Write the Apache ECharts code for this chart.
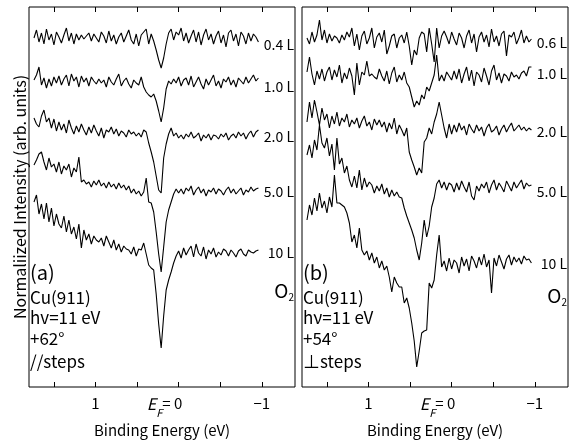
<!DOCTYPE html>
<html>
<head>
<meta charset="utf-8">
<script src="https://cdn.jsdelivr.net/npm/echarts@6/dist/echarts.min.js"></script>
<style>
  html, body { margin: 0; padding: 0; background: #fff; }
  #chart { width: 577px; height: 443px; }
</style>
</head>
<body>
<div id="chart"></div>
<script>
// binding energy grid (eV), shared by all spectra
var energy = [
  1.74, 1.71, 1.68, 1.65, 1.62, 1.59, 1.56, 1.53, 1.50, 1.47,
  1.44, 1.41, 1.38, 1.35, 1.32, 1.29, 1.26, 1.23, 1.20, 1.17,
  1.14, 1.11, 1.08, 1.05, 1.02, 0.99, 0.96, 0.93, 0.90, 0.87,
  0.84, 0.81, 0.78, 0.75, 0.72, 0.69, 0.66, 0.63, 0.60, 0.57,
  0.54, 0.51, 0.48, 0.45, 0.42, 0.39, 0.36, 0.33, 0.30, 0.27,
  0.24, 0.21, 0.18, 0.15, 0.12, 0.09, 0.06, 0.03, 0.00, -0.03,
  -0.06, -0.09, -0.12, -0.15, -0.18, -0.21, -0.24, -0.27, -0.30, -0.33,
  -0.36, -0.39, -0.42, -0.45, -0.48, -0.51, -0.54, -0.57, -0.60, -0.63,
  -0.66, -0.69, -0.72, -0.75, -0.78, -0.81, -0.84, -0.87, -0.90, -0.93,
  -0.96
]
var tickValues = [1.5, 1, 0.5, 0, -0.5, -1]
var labelValues = [1, 0, -1]

var dosesA = ['0.4 L', '1.0 L', '2.0 L', '5.0 L', '10 L']
var dosesB = ['0.6 L', '1.0 L', '2.0 L', '5.0 L', '10 L']
// vertical offset of each spectrum (arb. units)
var offsetsA = [349, 304, 251, 195, 133]
var offsetsB = [347, 310, 257, 199, 124]

// (a) +62 deg, // steps
var a04 = [
  0, 8, -4, 5, -6, 9, -2, 4, -7, 6,
  1, -5, 3, 10, -3, 5, -6, 4, -2, 3,
  -1, 2, 5, -3, 4, 0, -4, 6, 2, -5,
  7, -3, 3, -6, 1, 5, -4, 2, 8, -2,
  -6, 4, -8, 3, 6, 9, -6, 4, -3, -12,
  -22, -30, -20, -6, 5, 9, -2, 6, 3, 10,
  -3, 5, -5, 2, 8, -4, 6, -7, 3, 9,
  -2, 4, -6, 2, 7, -5, 3, -9, 5, 8,
  -3, 4, -8, 6, 2, -6, 5, -3, 4, 1,
  -4
]
var a10 = [
  3, 8, 16, -2, 5, -5, 4, -3, 6, 0,
  7, -2, 4, 8, -3, 9, 2, 6, -4, 7,
  1, 5, -3, 6, 2, -1, 4, 0, 3, -4,
  6, 1, -2, 4, 9, -3, 2, 5, -1, -5,
  3, 0, -2, 6, -4, -9, -12, -14, -11, -18,
  -28, -39, -25, -6, 2, -1, 4, 0, 6, -3,
  3, 5, -2, 7, -4, 1, 6, -1, -6, 4,
  -2, 3, 8, -3, 2, -5, 4, 1, 6, -2,
  3, -4, 5, 2, -1, 6, 0, 4, 8, 2,
  5
]
var a20 = [
  18, 12, 9, 20, 26, 14, 18, 8, 17, 5,
  14, 6, 12, 3, 16, 8, 2, 10, 4, 12,
  6, 1, 9, 3, 11, 5, 0, 8, -2, 6,
  4, 9, 2, 7, 0, 5, 3, -1, 6, 2,
  4, 0, 3, -1, 6, 4, -7, -16, -26, -40,
  -54, -57, -22, -8, 2, 8, 0, 3, -2, 1,
  -3, 2, -1, 4, -2, 0, 3, -5, 1, -2,
  2, -4, 1, 0, -3, 2, -1, 3, -4, 0,
  2, -2, 4, 0, 3, -3, 2, 5, -1, 4,
  6
]
var a50 = [
  27, 32, 38, 40, 30, 22, 34, 25, 28, 20,
  30, 18, 26, 22, 28, 15, 24, 20, 35, 10,
  12, 8, 10, 5, 11, 7, 12, 6, 9, 4,
  10, 5, 8, 3, 9, 4, 7, 2, 6, -1,
  3, -2, 1, -4, 0, 14, -10, -11, -20, -40,
  -62, -80, -55, -30, -18, -10, -2, 3, -1, 3,
  -2, 4, 1, 6, -3, 2, 5, -1, 3, -4,
  2, 0, 4, -2, 3, 1, -3, 2, 5, -1,
  3, -2, 1, 4, -3, 2, 0, 5, 1, 3,
  4
]
var a100 = [
  52, 59, 40, 50, 35, 51, 32, 46, 28, 40,
  30, 26, 38, 22, 34, 20, 27, 15, 30, 6,
  24, 14, 20, 10, 18, 14, 12, 16, 8, 18,
  12, 6, 14, 4, 10, 2, 8, 5, 4, 0,
  7, -2, 5, 4, 11, 0, -11, -14, -16, -40,
  -70, -94, -62, -36, -26, -18, -9, -2, 3, -4,
  6, -1, 4, 8, -3, 10, 1, -2, 7, -5,
  4, 0, 6, -3, 2, -1, 5, 3, -2, 4,
  1, -3, 3, 5, 0, -2, 4, 2, 1, 3,
  4
]

// (b) +54 deg, perpendicular to steps
var b06 = [
  2, -4, 8, -2, 5, 20, 0, 10, -3, 6,
  -1, 4, 2, -3, 5, 0, 8, 3, 12, -6,
  6, -10, 4, 9, -4, 2, 12, -8, 3, 7,
  -2, 10, -14, -6, 4, 6, -8, 2, 5, -3,
  8, -6, -25, -10, -15, 2, 8, 6, -12, 12,
  -4, -22, 12, -8, 4, 9, 3, -4, 8, 1,
  -5, 7, 2, -8, 4, 10, -3, 6, -12, 3,
  8, -2, 5, -7, 11, -2, 4, -6, 6, 9,
  -16, 5, 3, 8, -4, 2, 10, -3, 4, -2,
  1
]
var b10 = [
  5, 20, 3, -8, 6, -2, 8, -4, 5, 10,
  -3, 7, 0, 12, -6, 4, -2, 9, 1, -18,
  14, -8, 5, 2, 16, 1, 3, 0, -2, 8,
  1, -4, 6, -7, 4, 10, -5, 2, -3, 5,
  -6, -10, -20, -30, -24, -28, -18, -22, -10, -14,
  -6, 2, 22, -4, 2, -4, 5, 1, -3, 6,
  -2, 8, -6, 3, 10, -4, 7, -9, 5, 2,
  -5, 9, 1, -8, 6, 12, -3, 4, -6, 3,
  1, -4, 5, 0, 2, -2, 4, 6, 1, 10,
  10
]
var b20 = [
  8, 28, 12, 30, 18, 5, 22, 10, 16, 2,
  14, 6, 18, 4, 12, 8, 16, 3, 10, 6,
  12, 2, 9, 14, 4, 8, 0, 11, 5, 10,
  3, 8, -2, 7, 1, 12, -4, 5, 0, -6,
  2, -22, -30, -37, -45, -38, -43, -12, -8, 2,
  -4, 8, 16, 28, 15, 2, -8, 6, -4, 5,
  -2, 7, 0, 4, -5, 6, 1, -3, 5, -1,
  3, -6, 2, 6, -2, 0, 4, -5, 1, 5,
  -2, 3, 7, -1, 2, 5, 0, 3, -1, 2,
  0
]
var b50 = [
  33, 43, 30, 48, 38, 63, 45, 40, 50, 32,
  44, 18, 50, 24, 30, 15, 22, 8, 1, 12,
  0, 18, -2, 10, 1, 6, 3, -5, 2, -3,
  4, -6, 0, -9, -2, -8, -4, -9, -10, -20,
  -28, -35, -42, -50, -62, -72, -55, -32, -49, -38,
  -19, -10, 4, 8, 0, 6, -2, 5, 3, -4,
  5, -2, 7, 1, -4, 6, -8, -12, 2, -3,
  4, 0, 6, -5, 3, 8, -2, 5, 1, -4,
  7, 2, -3, 6, 0, 4, 8, -1, 5, 2,
  3
]
var b100 = [
  43, 58, 48, 65, 52, 70, 55, 62, 50, 66,
  56, 88, 60, 60, 58, 56, 50, 40, 21, 28,
  15, 35, 13, 8, 12, 3, 10, 0, 6, -5,
  2, -7, -3, -14, -29, -14, -20, -24, -24, -40,
  -35, -45, -60, -78, -104, -88, -70, -68, -67, -20,
  -25, -17, 8, 28, -4, 2, -8, 5, -6, 3,
  0, -10, 6, -3, 4, -8, 7, 2, -5, 6,
  -2, 9, -4, 3, -30, 5, -3, 8, 1, -6,
  4, 8, -2, 6, 1, 5, -1, 7, 3, 4,
  0
]

var spectraA = [a04, a10, a20, a50, a100]
var spectraB = [b06, b10, b20, b50, b100]

var FONT = '"Noto Sans CJK JP", "Noto Sans", sans-serif'
var chart = echarts.init(document.getElementById('chart'))

function toPairs(vals, off) {
  return vals.map(function (v, i) { return [energy[i], off + v] })
}

function energyLabel(v) {
  if (v === 0) return '{e|E}{f|F}{n|= 0}{p| }'
  if (v < 0) return '{n|\u2212' + Math.abs(v) + '}'
  return '{n|' + v + '}'
}

function xAxes(g) {
  var base = {
    type: 'value',
    gridIndex: g,
    min: -1.4,
    max: 1.8,
    inverse: true,
    axisLine: { show: false },
    splitLine: { show: false },
    axisTick: {
      show: true,
      inside: true,
      length: 5,
      customValues: tickValues,
      lineStyle: { color: '#000', width: 1 }
    }
  }
  var bottom = Object.assign({}, base, {
    position: 'bottom',
    name: 'Binding Energy (eV)',
    nameLocation: 'middle',
    nameGap: 30,
    nameTextStyle: { fontFamily: FONT, fontSize: 15, color: '#000' },
    axisLabel: {
      customValues: labelValues,
      margin: 9,
      formatter: energyLabel,
      color: '#000',
      rich: {
        n: { fontFamily: FONT, fontSize: 15, color: '#000', lineHeight: 18, verticalAlign: 'top' },
        e: { fontFamily: FONT, fontSize: 16, fontStyle: 'italic', color: '#000', lineHeight: 18, verticalAlign: 'top' },
        f: { fontFamily: FONT, fontSize: 11, fontStyle: 'italic', color: '#000', lineHeight: 10, verticalAlign: 'top', padding: [11, 0, 0, 0] },
        p: { width: 28, fontSize: 15, lineHeight: 18, verticalAlign: 'top' }
      }
    }
  })
  var top = Object.assign({}, base, {
    position: 'top',
    axisLabel: { show: false }
  })
  return [bottom, top]
}

function yAxis(g, name) {
  return {
    type: 'value',
    gridIndex: g,
    min: 0,
    max: 380,
    axisLine: { show: false },
    axisTick: { show: false },
    axisLabel: { show: false },
    splitLine: { show: false },
    name: name,
    nameLocation: 'middle',
    nameGap: 1,
    nameTextStyle: { fontFamily: FONT, fontSize: 16, color: '#000' }
  }
}

var series = []
spectraA.forEach(function (s, k) {
  series.push({
    name: 'a ' + dosesA[k], type: 'line', xAxisIndex: 0, yAxisIndex: 0,
    data: toPairs(s, offsetsA[k]), showSymbol: false, symbol: 'none',
    lineStyle: { color: '#000', width: 1.1 }, animation: false
  })
})
spectraB.forEach(function (s, k) {
  series.push({
    name: 'b ' + dosesB[k], type: 'line', xAxisIndex: 2, yAxisIndex: 1,
    data: toPairs(s, offsetsB[k]), showSymbol: false, symbol: 'none',
    lineStyle: { color: '#000', width: 1.1 }, animation: false
  })
})

function txt(x, y, text, size, align) {
  return {
    type: 'text', x: x, y: y, silent: true,
    style: {
      text: text, fill: '#000', textAlign: align || 'left', textVerticalAlign: 'middle',
      font: size + 'px ' + FONT
    }
  }
}
function oxygen(x, y) {
  return {
    type: 'text', x: x, y: y, silent: true,
    style: {
      text: '{o|O}{s|2}', textAlign: 'right', textVerticalAlign: 'middle',
      rich: {
        o: { fontFamily: FONT, fontSize: 19, fill: '#000', lineHeight: 20, verticalAlign: 'top' },
        s: { fontFamily: FONT, fontSize: 10, fill: '#000', lineHeight: 10, verticalAlign: 'top', padding: [11, 0, 0, 0] }
      }
    }
  }
}

var labelYA = [45, 87, 137, 192, 253]
var labelYB = [43, 74, 132, 192, 264]
var graphics = []
dosesA.forEach(function (d, k) { graphics.push(txt(294, labelYA[k], d, 14, 'right')) })
dosesB.forEach(function (d, k) { graphics.push(txt(567, labelYB[k], d, 14, 'right')) })
graphics.push(oxygen(294, 291), oxygen(567, 296))
graphics.push(
  txt(30, 272, '(a)', 20), txt(30, 298, 'Cu(911)', 17), txt(30, 318, 'hv=11 eV', 17),
  txt(30, 339, '+62\u00b0', 17), txt(30, 362, '//steps', 17),
  txt(303, 272, '(b)', 20), txt(303, 298, 'Cu(911)', 17), txt(303, 318, 'h\u03bd=11 eV', 17),
  txt(303, 339, '+54\u00b0', 17), txt(303, 362, '\u22a5steps', 17)
)

chart.setOption({
  animation: false,
  backgroundColor: '#fff',
  grid: [
    { left: 29, top: 7, width: 266, height: 380, show: true, borderColor: '#000', borderWidth: 1, backgroundColor: 'transparent', outerBoundsMode: 'none', containLabel: false },
    { left: 302, top: 7, width: 266, height: 380, show: true, borderColor: '#000', borderWidth: 1, backgroundColor: 'transparent', outerBoundsMode: 'none', containLabel: false }
  ],
  xAxis: xAxes(0).concat(xAxes(1)),
  yAxis: [yAxis(0, 'Normaliized Intensity (arb. units)'), yAxis(1, '')],
  series: series,
  graphic: graphics
})
</script>
</body>
</html>
